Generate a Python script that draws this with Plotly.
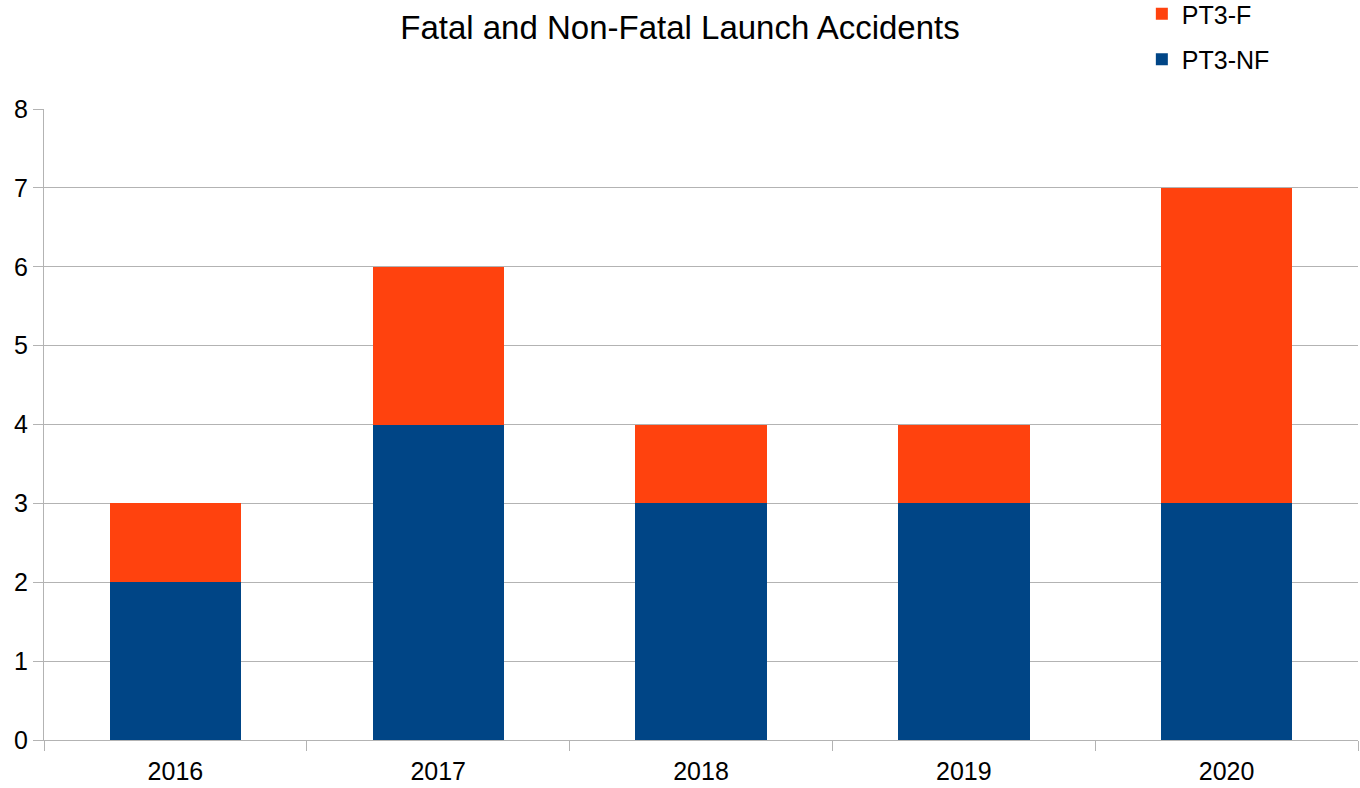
import plotly.graph_objects as go

years = ["2016", "2017", "2018", "2019", "2020"]
pt3_nf = [2, 4, 3, 3, 3]
pt3_f = [1, 2, 1, 1, 4]

grid = "#b3b3b3"
font_family = "Liberation Sans, Arial, sans-serif"

fig = go.Figure()
fig.add_trace(go.Bar(x=years, y=pt3_nf, name="PT3-NF", marker_color="#004586",
                     marker_line_width=0, legendgroup="nf", legendrank=2))
fig.add_trace(go.Bar(x=years, y=pt3_f, name="PT3-F", marker_color="#ff420e",
                     marker_line_width=0, legendgroup="f", legendrank=1))

fig.update_layout(
    barmode="stack",
    bargap=0.5,
    width=1360, height=788,
    margin=dict(l=44, r=2, t=109, b=48, autoexpand=False),
    paper_bgcolor="white", plot_bgcolor="white",
    font=dict(family=font_family, size=25, color="black"),
    title=dict(text="Fatal and Non-Fatal Launch Accidents", x=0.5, xanchor="center",
               y=0.965, yanchor="middle", font=dict(size=33, color="black")),
    legend=dict(x=0.8355, xanchor="left", y=1.187, yanchor="top",
                traceorder="grouped", tracegroupgap=10,
                font=dict(size=25), bgcolor="rgba(0,0,0,0)"),
    xaxis=dict(type="category", showgrid=False, showline=True, linecolor=grid,
               ticks="outside", tickson="boundaries", ticklen=10, tickcolor=grid,
               tickfont=dict(size=25), ticklabelstandoff=9),
    yaxis=dict(range=[0, 8], dtick=1, showgrid=True, gridcolor=grid, zeroline=False,
               showline=True, linecolor=grid, ticks="outside", ticklen=10, tickcolor=grid,
               tickfont=dict(size=25)),
)

fig.write_html("out.html", config={"displayModeBar": False},
               post_script="document.body.style.margin='0';document.body.style.overflow='hidden';")
